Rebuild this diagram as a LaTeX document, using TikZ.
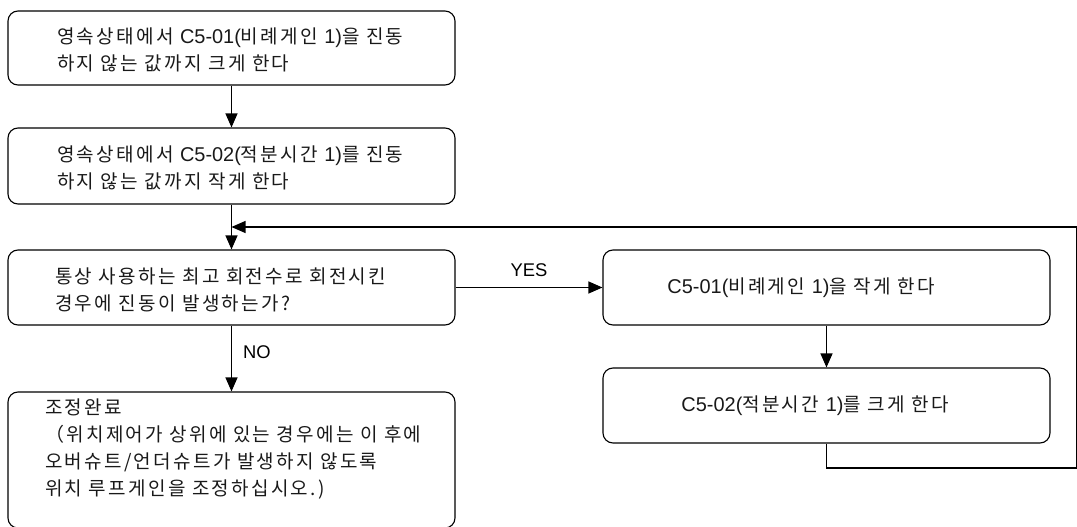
\documentclass[tikz,border=0pt]{standalone}
\usepackage{fontspec}
\setmainfont[LetterSpace=12]{Noto Sans CJK KR}
\newfontfamily\en[Scale=1.05]{Liberation Sans}
\usetikzlibrary{arrows.meta}
\begin{document}
\begin{tikzpicture}[x=1pt,y=-1pt,
  box/.style={draw, line width=1.1pt, rounded corners=10pt, minimum width=447pt, inner sep=0pt},
  txt/.style={anchor=west, align=left, inner sep=0pt, font=\fontsize{19}{27}\selectfont, text=black!90},
  lbl/.style={inner sep=0pt, font=\en\fontsize{17.5}{20}\selectfont},
  conn/.style={line width=1.1pt},
  arr/.style={conn, -{Triangle[width=12pt,length=14pt]}}]
\useasboundingbox (0,0) rectangle (1077,527);
\node[box, minimum height=74pt] (b1) at (231.5,48) {};
\node[txt] (t1) at (57,50) {영속상태에서 {\en C5-01(}비례게인 {\en 1)}을 진동\\하지 않는 값까지 크게 한다};
\node[box, minimum height=76pt] (b2) at (231.5,166) {};
\node[txt] (t2) at (57,168) {영속상태에서 {\en C5-02(}적분시간 {\en 1)}를 진동\\하지 않는 값까지 작게 한다};
\node[box, minimum height=75pt] (b3) at (231.5,287.5) {};
\node[txt] (t3) at (55,290) {통상 사용하는 최고 회전수로 회전시킨\\경우에 진동이 발생하는가?};
\node[box, minimum height=75pt] (b4) at (826.5,287.5) {};
\node[txt, anchor=center] (t4) at (801,288) {{\en C5-01(}비례게인 {\en 1)}을 작게 한다};
\node[box, minimum height=75pt] (b5) at (826.5,405.5) {};
\node[txt, anchor=center] (t5) at (815,406) {{\en C5-02(}적분시간 {\en 1)}를 크게 한다};
\node[box, minimum height=136pt] (b6) at (231.5,460) {};
\node[txt] (t6) at (45,449) {조정완료\\（위치제어가 상위에 있는 경우에는 이 후에\\오버슈트/언더슈트가 발생하지 않도록\\위치 루프게인을 조정하십시오.)};
\draw[arr] (b1.south) -- (b2.north);
\draw[arr] (b2.south) -- (b3.north);
\draw[arr] (b3.east) -- node[lbl, above=10pt] (yes) {YES} (b4.west);
\draw[arr] (b3.south) -- node[lbl, right=11pt, yshift=6pt] (no) {NO} (b6.north);
\draw[arr] (b4.south) -- (b5.north);
\coordinate (c1) at (826.5,468);
\coordinate (c2) at (1077,468);
\coordinate (c3) at (1077,227);
\draw[arr] (b5.south) -- (c1) -- (c2) -- (c3) -- (b2.south |- c3);
\end{tikzpicture}
\end{document}
